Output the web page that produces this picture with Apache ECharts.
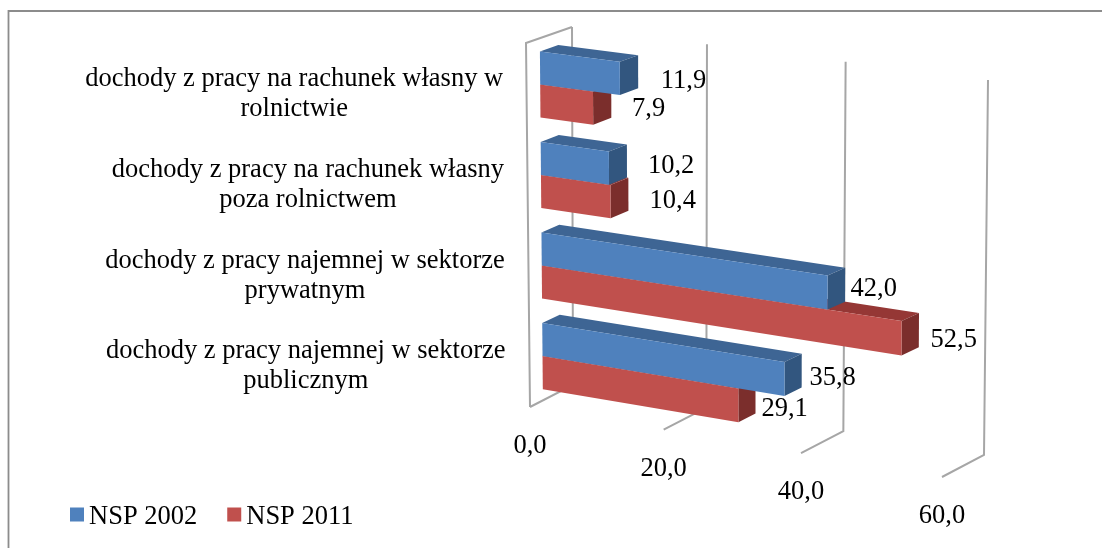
<!DOCTYPE html>
<html>
<head>
<meta charset="utf-8">
<style>
  html, body { margin: 0; padding: 0; background: #fff; }
  #chart { width: 1102px; height: 548px; }
</style>
<script src="https://cdn.jsdelivr.net/npm/echarts@6/dist/echarts.min.js"></script>
</head>
<body>
<div id="chart"></div>
<script>
const categories = [
  'dochody z pracy na rachunek własny w\nrolnictwie',
  'dochody z pracy na rachunek własny\npoza rolnictwem',
  'dochody z pracy najemnej w sektorze\nprywatnym',
  'dochody z pracy najemnej w sektorze\npublicznym'
];
const nsp2002 = [11.9, 10.2, 42.0, 35.8];
const nsp2011 = [7.9, 10.4, 52.5, 29.1];
const valueTicks = [0, 20, 40, 60];

// hand placed nudges for the value labels, px from the bar end
const nudge2002 = [[41, 3], [39, -2], [23, -3], [25, -1]];
const nudge2011 = [[39, 1], [39, -1], [29, 2], [23, 4]];

const FONT = '"Liberation Serif", "Times New Roman", serif';
const FONT_SIZE = 26.5;

// the box of the fake 3d plot: [x, y] of its 8 corners
const box = {
  frontTopL: [526, 43], frontTopR: [942, 96],
  frontBotL: [530, 407], frontBotR: [942, 477],
  backTopL: [572, 27], backTopR: [988, 80],
  backBotL: [573, 385], backBotR: [984, 455]
};

function lerp(a, b, t) { return a + (b - a) * t; }
function lerp2(a, b, t) { return [lerp(a[0], b[0], t), lerp(a[1], b[1], t)]; }

// u: 0..1 along values, v: 0..1 top to bottom, w: 0 front wall .. 1 back wall
function project(u, v, w) {
  const t = u * (0.96 + 0.04 * u);
  const front = lerp2(lerp2(box.frontTopL, box.frontTopR, t), lerp2(box.frontBotL, box.frontBotR, t), v);
  const back = lerp2(lerp2(box.backTopL, box.backTopR, t), lerp2(box.backBotL, box.backBotR, t), v);
  return lerp2(front, back, w);
}

function toUnit(params, pt) {
  const c = params.coordSys;
  return [(pt[0] - c.x) / c.width, (pt[1] - c.y) / c.height];
}

function poly(points, fill) {
  return { type: 'polygon', shape: { points: points }, style: { fill: fill }, silent: true };
}

const W_FRONT = 0.3, W_BACK = 0.7;

function barRenderer(slot, colors, nudge) {
  return function (params, api) {
    const value = api.value(0);
    const cat = api.value(1);
    const band = api.size([0, 1])[1];
    const barH = band * 0.365;
    const mid = api.coord([value, cat]);
    const zero = api.coord([0, cat]);
    const y0 = mid[1] + (slot - 1) * barH + 1;
    const y1 = y0 + barH;
    const u0 = toUnit(params, [zero[0], y0]);
    const u1 = toUnit(params, [mid[0], y1]);
    const a = project(u0[0], u0[1], W_FRONT), b = project(u1[0], u0[1], W_FRONT);
    const c = project(u1[0], u1[1], W_FRONT), d = project(u0[0], u1[1], W_FRONT);
    const a2 = project(u0[0], u0[1], W_BACK), b2 = project(u1[0], u0[1], W_BACK);
    const c2 = project(u1[0], u1[1], W_BACK);
    const n = nudge[params.dataIndex];
    return {
      type: 'group',
      children: [
        poly([a, a2, b2, b], colors[1]),
        poly([b, b2, c2, c], colors[2]),
        poly([a, b, c, d], colors[0]),
        {
          type: 'text',
          style: {
            x: (b[0] + c[0]) / 2 + n[0],
            y: (b[1] + c[1]) / 2 + n[1],
            text: value.toFixed(1).replace('.', ','),
            fill: '#000', font: FONT_SIZE + 'px ' + FONT,
            textAlign: 'left', textVerticalAlign: 'middle'
          },
          z2: 20
        }
      ]
    };
  };
}

function gridRenderer(params, api) {
  const v = api.value(0);
  const u = toUnit(params, api.coord([v, 0]))[0];
  const line = { stroke: '#a6a6a6', lineWidth: 2, fill: null };
  const fb = project(u, 1, 0), bb = project(u, 1, 1), bt = project(u, 0, 1);
  const children = [
    { type: 'polyline', shape: { points: [fb, bb, bt] }, style: line, silent: true },
    {
      type: 'text',
      style: {
        x: fb[0], y: fb[1] + 39, text: v.toFixed(1).replace('.', ','),
        fill: '#000', font: FONT_SIZE + 'px ' + FONT,
        textAlign: 'center', textVerticalAlign: 'middle'
      }
    }
  ];
  if (v === 0) {
    const ft = project(u, 0, 0);
    children.push({ type: 'polyline', shape: { points: [bt, ft, fb] }, style: line, silent: true });
  }
  return { type: 'group', children: children };
}

const measure = document.createElement('canvas').getContext('2d');

function categoryRenderer(params, api) {
  const text = categories[params.dataIndex];
  measure.font = FONT_SIZE + 'px ' + FONT;
  const widest = Math.max.apply(null, text.split('\n').map(s => measure.measureText(s).width));
  const pt = api.coord([0, params.dataIndex]);
  const uv = toUnit(params, pt);
  const anchor = project(0, uv[1], W_FRONT);
  return {
    type: 'text',
    style: {
      x: anchor[0] - 37 - widest / 2,
      y: anchor[1] + 11,
      text: text, lineHeight: 30,
      fill: '#000', font: FONT_SIZE + 'px ' + FONT,
      textAlign: 'center', textVerticalAlign: 'middle'
    }
  };
}

const chart = echarts.init(document.getElementById('chart'), null, { renderer: 'canvas' });

chart.setOption({
  animation: false,
  backgroundColor: '#fff',
  graphic: [{
    type: 'polyline',
    shape: { points: [[8.5, 548], [8.5, 11], [1102, 11]] },
    style: { stroke: '#8c8c8c', lineWidth: 1.8, fill: null },
    silent: true
  }],
  legend: {
    left: 70, top: 504, padding: 0,
    itemWidth: 14, itemHeight: 14, itemGap: 30,
    icon: 'rect',
    formatter: '{t|{name}}',
    textStyle: {
      fontFamily: FONT, fontSize: FONT_SIZE, color: '#000',
      // pushes the text down a little against the square
      rich: { t: { fontFamily: FONT, fontSize: FONT_SIZE, color: '#000', padding: [6, 0, 0, 0] } }
    },
    data: ['NSP 2002', 'NSP 2011']
  },
  // plot rect only feeds project(), the axes themselves stay hidden
  grid: { left: 526, top: 43, width: 416, height: 364 },
  xAxis: { type: 'value', min: 0, max: 60, interval: 20, show: false },
  yAxis: { type: 'category', inverse: true, data: categories, show: false },
  series: [
    {
      name: 'ticks', type: 'custom', renderItem: gridRenderer, silent: true, z: 1,
      encode: { x: 0 }, data: valueTicks.map(t => [t])
    },
    {
      name: 'labels', type: 'custom', renderItem: categoryRenderer, silent: true, z: 1,
      encode: { y: 0 }, data: categories.map((c, i) => [i])
    },
    {
      name: 'NSP 2011', type: 'custom', z: 2,
      itemStyle: { color: '#c0504d' },
      renderItem: barRenderer(1, ['#c0504d', '#953735', '#7b2e2c'], nudge2011),
      encode: { x: 0, y: 1 }, data: nsp2011.map((v, i) => [v, i])
    },
    {
      name: 'NSP 2002', type: 'custom', z: 3,
      itemStyle: { color: '#4f81bd' },
      renderItem: barRenderer(0, ['#4f81bd', '#3e6594', '#32567f'], nudge2002),
      encode: { x: 0, y: 1 }, data: nsp2002.map((v, i) => [v, i])
    }
  ]
});
window.addEventListener('resize', () => { chart.resize(); });
</script>
</body>
</html>
